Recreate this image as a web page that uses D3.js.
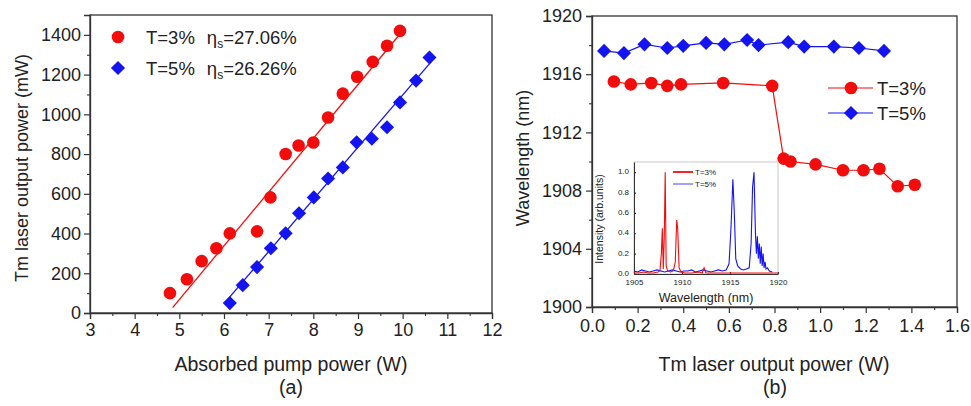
<!DOCTYPE html>
<html>
<head>
<meta charset="utf-8">
<script src="https://cdn.jsdelivr.net/npm/d3@7"></script>
<style>
  body { margin: 0; background: #fff; }
  text { font-family: "Liberation Sans", Arial, sans-serif; fill: #222; }
</style>
</head>
<body>
<svg id="chart" width="971" height="406"></svg>
<script>
'use strict';

// (a) output power vs absorbed pump power
var pumpT3  = [4.79, 5.17, 5.5, 5.83, 6.13, 6.74, 7.04, 7.38, 7.67, 8.0, 8.33, 8.66, 8.98, 9.33, 9.65, 9.94];
var powerT3 = [100, 170, 261, 326, 401, 411, 582, 800, 843, 858, 984, 1104, 1189, 1264, 1345, 1420];
var pumpT5  = [6.13, 6.42, 6.74, 7.05, 7.38, 7.68, 8.01, 8.33, 8.66, 8.97, 9.31, 9.65, 9.94, 10.3, 10.6];
var powerT5 = [50, 140, 231, 326, 401, 502, 582, 677, 733, 859, 877, 935, 1060, 1170, 1286];
var fitT3X = [4.85, 9.95], fitT3Y = [27, 1407];
var fitT5X = [6.05, 10.65], fitT5Y = [60, 1268];

// (b) wavelength vs output power
var outT3 = [0.096, 0.17, 0.26, 0.33, 0.39, 0.575, 0.79, 0.84, 0.87, 0.98, 1.10, 1.19, 1.26, 1.34, 1.415];
var wlT3  = [1915.5, 1915.3, 1915.4, 1915.2, 1915.3, 1915.4, 1915.2, 1910.2, 1910.0, 1909.8, 1909.4, 1909.4, 1909.5, 1908.3, 1908.4];
var outT5 = [0.053, 0.14, 0.23, 0.33, 0.40, 0.50, 0.58, 0.68, 0.73, 0.86, 0.93, 1.06, 1.17, 1.28];
var wlT5  = [1917.6, 1917.45, 1918.05, 1917.8, 1917.95, 1918.15, 1918.05, 1918.35, 1918.0, 1918.2, 1917.9, 1917.9, 1917.8, 1917.6];

// inset spectra
var specT3X = [1905, 1905.5, 1906, 1906.5, 1907, 1907.5, 1907.7, 1907.85, 1907.95, 1908.05, 1908.15, 1908.25, 1908.35, 1908.5, 1908.8, 1909.1, 1909.3, 1909.45, 1909.55, 1909.7, 1909.9, 1910.3, 1911, 1911.8, 1912.1, 1912.3, 1912.5, 1913, 1914, 1915, 1916, 1917, 1918, 1919, 1920];
var specT3Y = [0.01, 0.01, 0.02, 0.01, 0.01, 0.02, 0.03, 0.2, 0.45, 0.05, 0.35, 1.0, 0.08, 0.03, 0.02, 0.03, 0.12, 0.53, 0.45, 0.06, 0.02, 0.01, 0.01, 0.02, 0.01, 0.06, 0.01, 0.01, 0.01, 0.01, 0.01, 0.01, 0.01, 0.01, 0.01];
var specT5X = [1905, 1905.4, 1905.8, 1906.2, 1906.6, 1907, 1907.4, 1907.8, 1908.2, 1908.6, 1909, 1909.4, 1909.8, 1910.2, 1910.6, 1911, 1911.4, 1911.8, 1912.2, 1912.6, 1913, 1913.4, 1913.8, 1914.2, 1914.6, 1914.9, 1915.1, 1915.3, 1915.45, 1915.6, 1915.8, 1916.1, 1916.4, 1916.7, 1917.0, 1917.2, 1917.35, 1917.5, 1917.65, 1917.75, 1917.85, 1917.95, 1918.05, 1918.15, 1918.25, 1918.35, 1918.45, 1918.55, 1918.65, 1918.75, 1918.9, 1919.1, 1919.4];
var specT5Y = [0.03, 0.02, 0.04, 0.03, 0.02, 0.03, 0.04, 0.03, 0.02, 0.03, 0.04, 0.03, 0.02, 0.03, 0.03, 0.04, 0.02, 0.03, 0.04, 0.03, 0.02, 0.03, 0.04, 0.03, 0.04, 0.1, 0.45, 0.93, 0.6, 0.15, 0.08, 0.05, 0.04, 0.05, 0.06, 0.3, 0.85, 1.0, 0.4, 0.2, 0.37, 0.15, 0.3, 0.1, 0.27, 0.08, 0.2, 0.06, 0.12, 0.05, 0.06, 0.03, 0.02];

var RED = "#f20d0d", BLUE = "#1414f0", AX = "#333";

var svg = d3.select("#chart");
svg.append("rect").attr("width", 971).attr("height", 406).attr("fill", "#fff");

function zip(a, b) { return a.map(function(v, i) { return [v, b[i]]; }); }

function frame(x0, y0, x1, y1) {
   svg.append("rect").attr("x", x0).attr("y", y0).attr("width", x1 - x0).attr("height", y1 - y0)
      .attr("fill", "none").attr("stroke", AX).attr("stroke-width", 1.3);
}

function styleAxis(g, size) {
   g.select(".domain").attr("stroke", AX).attr("stroke-width", 1.3);
   g.selectAll(".tick line").attr("stroke", AX).attr("stroke-width", 1.2);
   g.selectAll("text").style("font-size", size + "px").attr("fill", "#222");
}

function minors(axisFn, scale, vals, len, tx, ty) {
   var g = svg.append("g").attr("transform", "translate(" + tx + "," + ty + ")")
      .call(axisFn(scale).tickValues(vals).tickSize(len).tickFormat(""));
   g.select(".domain").remove();
   g.selectAll(".tick line").attr("stroke", AX).attr("stroke-width", 1.1);
}

function circles(data, x, y, r) {
   svg.append("g").selectAll("circle").data(data).enter().append("circle")
      .attr("cx", function(d) { return x(d[0]); })
      .attr("cy", function(d) { return y(d[1]); })
      .attr("r", r).attr("fill", RED);
}

var diamond = d3.symbol().type(d3.symbolSquare).size(100);
function diamonds(data, x, y) {
   svg.append("g").selectAll("path").data(data).enter().append("path")
      .attr("d", diamond)
      .attr("transform", function(d) { return "translate(" + x(d[0]) + "," + y(d[1]) + ") rotate(45)"; })
      .attr("fill", BLUE);
}

// ---------- panel (a) ----------
var xa = d3.scaleLinear().domain([3, 12]).range([90, 492]);
var ya = d3.scaleLinear().domain([0, 1500]).range([313, 15]);

frame(90, 15, 492, 313);

var gxa = svg.append("g").attr("transform", "translate(0,313)")
   .call(d3.axisBottom(xa).tickValues(d3.range(3, 13)).tickSize(6).tickPadding(4).tickFormat(d3.format("d")));
styleAxis(gxa, 18);
minors(d3.axisBottom, xa, d3.range(3.5, 12, 1), 3, 0, 313);

var gya = svg.append("g").attr("transform", "translate(90,0)")
   .call(d3.axisLeft(ya).tickValues(d3.range(0, 1401, 200)).tickSize(6).tickPadding(3).tickFormat(d3.format("d")));
styleAxis(gya, 18);
minors(d3.axisLeft, ya, d3.range(100, 1500, 200), 3, 90, 0);

var line = d3.line().x(function(d) { return xa(d[0]); }).y(function(d) { return ya(d[1]); });
svg.append("path").datum(zip(fitT3X, fitT3Y)).attr("d", line).attr("stroke", RED).attr("stroke-width", 1.3).attr("fill", "none");
svg.append("path").datum(zip(fitT5X, fitT5Y)).attr("d", line).attr("stroke", BLUE).attr("stroke-width", 1.3).attr("fill", "none");
circles(zip(pumpT3, powerT3), xa, ya, 6.3);
diamonds(zip(pumpT5, powerT5), xa, ya);

// legend (a)
svg.append("circle").attr("cx", 118).attr("cy", 37).attr("r", 6.3).attr("fill", RED);
svg.append("path").attr("d", diamond).attr("transform", "translate(118,68) rotate(45)").attr("fill", BLUE);
[["T=3%", "=27.06%", 43.5], ["T=5%", "=26.26%", 74.5]].forEach(function(l) {
   var t = svg.append("text").attr("x", 146).attr("y", l[2]).style("font-size", "18.5px");
   t.append("tspan").text(l[0]);
   t.append("tspan").attr("dx", 12).text("\u03b7");
   t.append("tspan").attr("dy", 4).style("font-size", "12px").text("s");
   t.append("tspan").attr("dy", -4).text(l[1]);
});

svg.append("text").attr("transform", "translate(28,168) rotate(-90)").attr("text-anchor", "middle")
   .style("font-size", "18px").text("Tm laser output power (mW)");
svg.append("text").attr("x", 291).attr("y", 371).attr("text-anchor", "middle").style("font-size", "19.5px").text("Absorbed pump power (W)");
svg.append("text").attr("x", 291).attr("y", 394).attr("text-anchor", "middle").style("font-size", "19.5px").text("(a)");

// ---------- panel (b) ----------
var xb = d3.scaleLinear().domain([0, 1.6]).range([592, 957]);
var yb = d3.scaleLinear().domain([1900, 1920]).range([307, 16]);

frame(592, 16, 957, 307);

var gxb = svg.append("g").attr("transform", "translate(0,307)")
   .call(d3.axisBottom(xb).tickValues(d3.range(0, 1.61, 0.2)).tickSize(6).tickPadding(6).tickFormat(d3.format(".1f")));
styleAxis(gxb, 18);
minors(d3.axisBottom, xb, d3.range(0.1, 1.6, 0.2), 3, 0, 307);

var gyb = svg.append("g").attr("transform", "translate(592,0)")
   .call(d3.axisLeft(yb).tickValues(d3.range(1900, 1921, 4)).tickSize(6).tickPadding(4).tickFormat(d3.format("d")));
styleAxis(gyb, 18);
minors(d3.axisLeft, yb, d3.range(1902, 1920, 4), 3, 592, 0);

var lineb = d3.line().x(function(d) { return xb(d[0]); }).y(function(d) { return yb(d[1]); });
svg.append("path").datum(zip(outT3, wlT3)).attr("d", lineb).attr("stroke", RED).attr("stroke-width", 1.2).attr("fill", "none");
svg.append("path").datum(zip(outT5, wlT5)).attr("d", lineb).attr("stroke", BLUE).attr("stroke-width", 1.2).attr("fill", "none");
circles(zip(outT3, wlT3), xb, yb, 6.3);
diamonds(zip(outT5, wlT5), xb, yb);

// legend (b)
[[RED, "T=3%", 88], [BLUE, "T=5%", 113]].forEach(function(l, i) {
   svg.append("line").attr("x1", 828).attr("x2", 873).attr("y1", l[2]).attr("y2", l[2]).attr("stroke", l[0]).attr("stroke-width", 1.2);
   if (i === 0) svg.append("circle").attr("cx", 851).attr("cy", l[2]).attr("r", 6.3).attr("fill", RED);
   else svg.append("path").attr("d", diamond).attr("transform", "translate(851," + l[2] + ") rotate(45)").attr("fill", BLUE);
   svg.append("text").attr("x", 877).attr("y", l[2] + 6.5).style("font-size", "18.5px").text(l[1]);
});

svg.append("text").attr("transform", "translate(529,158) rotate(-90)").attr("text-anchor", "middle")
   .style("font-size", "18px").text("Wavelength (nm)");
svg.append("text").attr("x", 774).attr("y", 371).attr("text-anchor", "middle").style("font-size", "19.5px").text("Tm laser output power (W)");
svg.append("text").attr("x", 775).attr("y", 394).attr("text-anchor", "middle").style("font-size", "19.5px").text("(b)");

// ---------- inset ----------
var xi = d3.scaleLinear().domain([1905, 1920]).range([634, 778]);
var yi = d3.scaleLinear().domain([0, 1.1]).range([274, 162]);

svg.append("rect").attr("x", 634).attr("y", 162).attr("width", 144).attr("height", 112)
   .attr("fill", "none").attr("stroke", "#bbb").attr("stroke-width", 0.8);

var gxi = svg.append("g").attr("transform", "translate(0,274)")
   .call(d3.axisBottom(xi).tickValues([1905, 1910, 1915, 1920]).tickSizeInner(-2).tickSizeOuter(0).tickPadding(5).tickFormat(d3.format("d")));
styleAxis(gxi, 8);
gxi.select(".domain").attr("stroke-width", 1);
var gyi = svg.append("g").attr("transform", "translate(634,0)")
   .call(d3.axisLeft(yi).tickValues(d3.range(0, 1.01, 0.2)).tickSizeInner(-2).tickSizeOuter(0).tickPadding(5).tickFormat(d3.format(".1f")));
styleAxis(gyi, 8);
gyi.select(".domain").attr("stroke-width", 1);
gyi.selectAll(".tick text").attr("dy", "0.2em");

var linei = d3.line().x(function(d) { return xi(d[0]); }).y(function(d) { return yi(d[1]); });
svg.append("path").datum(zip(specT5X, specT5Y)).attr("d", linei).attr("stroke", BLUE).attr("stroke-width", 1.1).attr("fill", "none");
svg.append("path").datum(zip(specT3X, specT3Y)).attr("d", linei).attr("stroke", RED).attr("stroke-width", 1.1).attr("fill", "none");

[[RED, "T=3%", 172, 1.8], [BLUE, "T=5%", 184, 0.8]].forEach(function(l) {
   svg.append("line").attr("x1", 673).attr("x2", 693).attr("y1", l[2]).attr("y2", l[2]).attr("stroke", l[0]).attr("stroke-width", l[3]);
   svg.append("text").attr("x", 695).attr("y", l[2] + 3).style("font-size", "8px").text(l[1]);
});

svg.append("text").attr("transform", "translate(603,219) rotate(-90)").attr("text-anchor", "middle")
   .style("font-size", "10.5px").text("Intensity (arb.units)");
svg.append("text").attr("x", 706).attr("y", 302).attr("text-anchor", "middle").style("font-size", "12.5px").text("Wavelength (nm)");
</script>
</body>
</html>
